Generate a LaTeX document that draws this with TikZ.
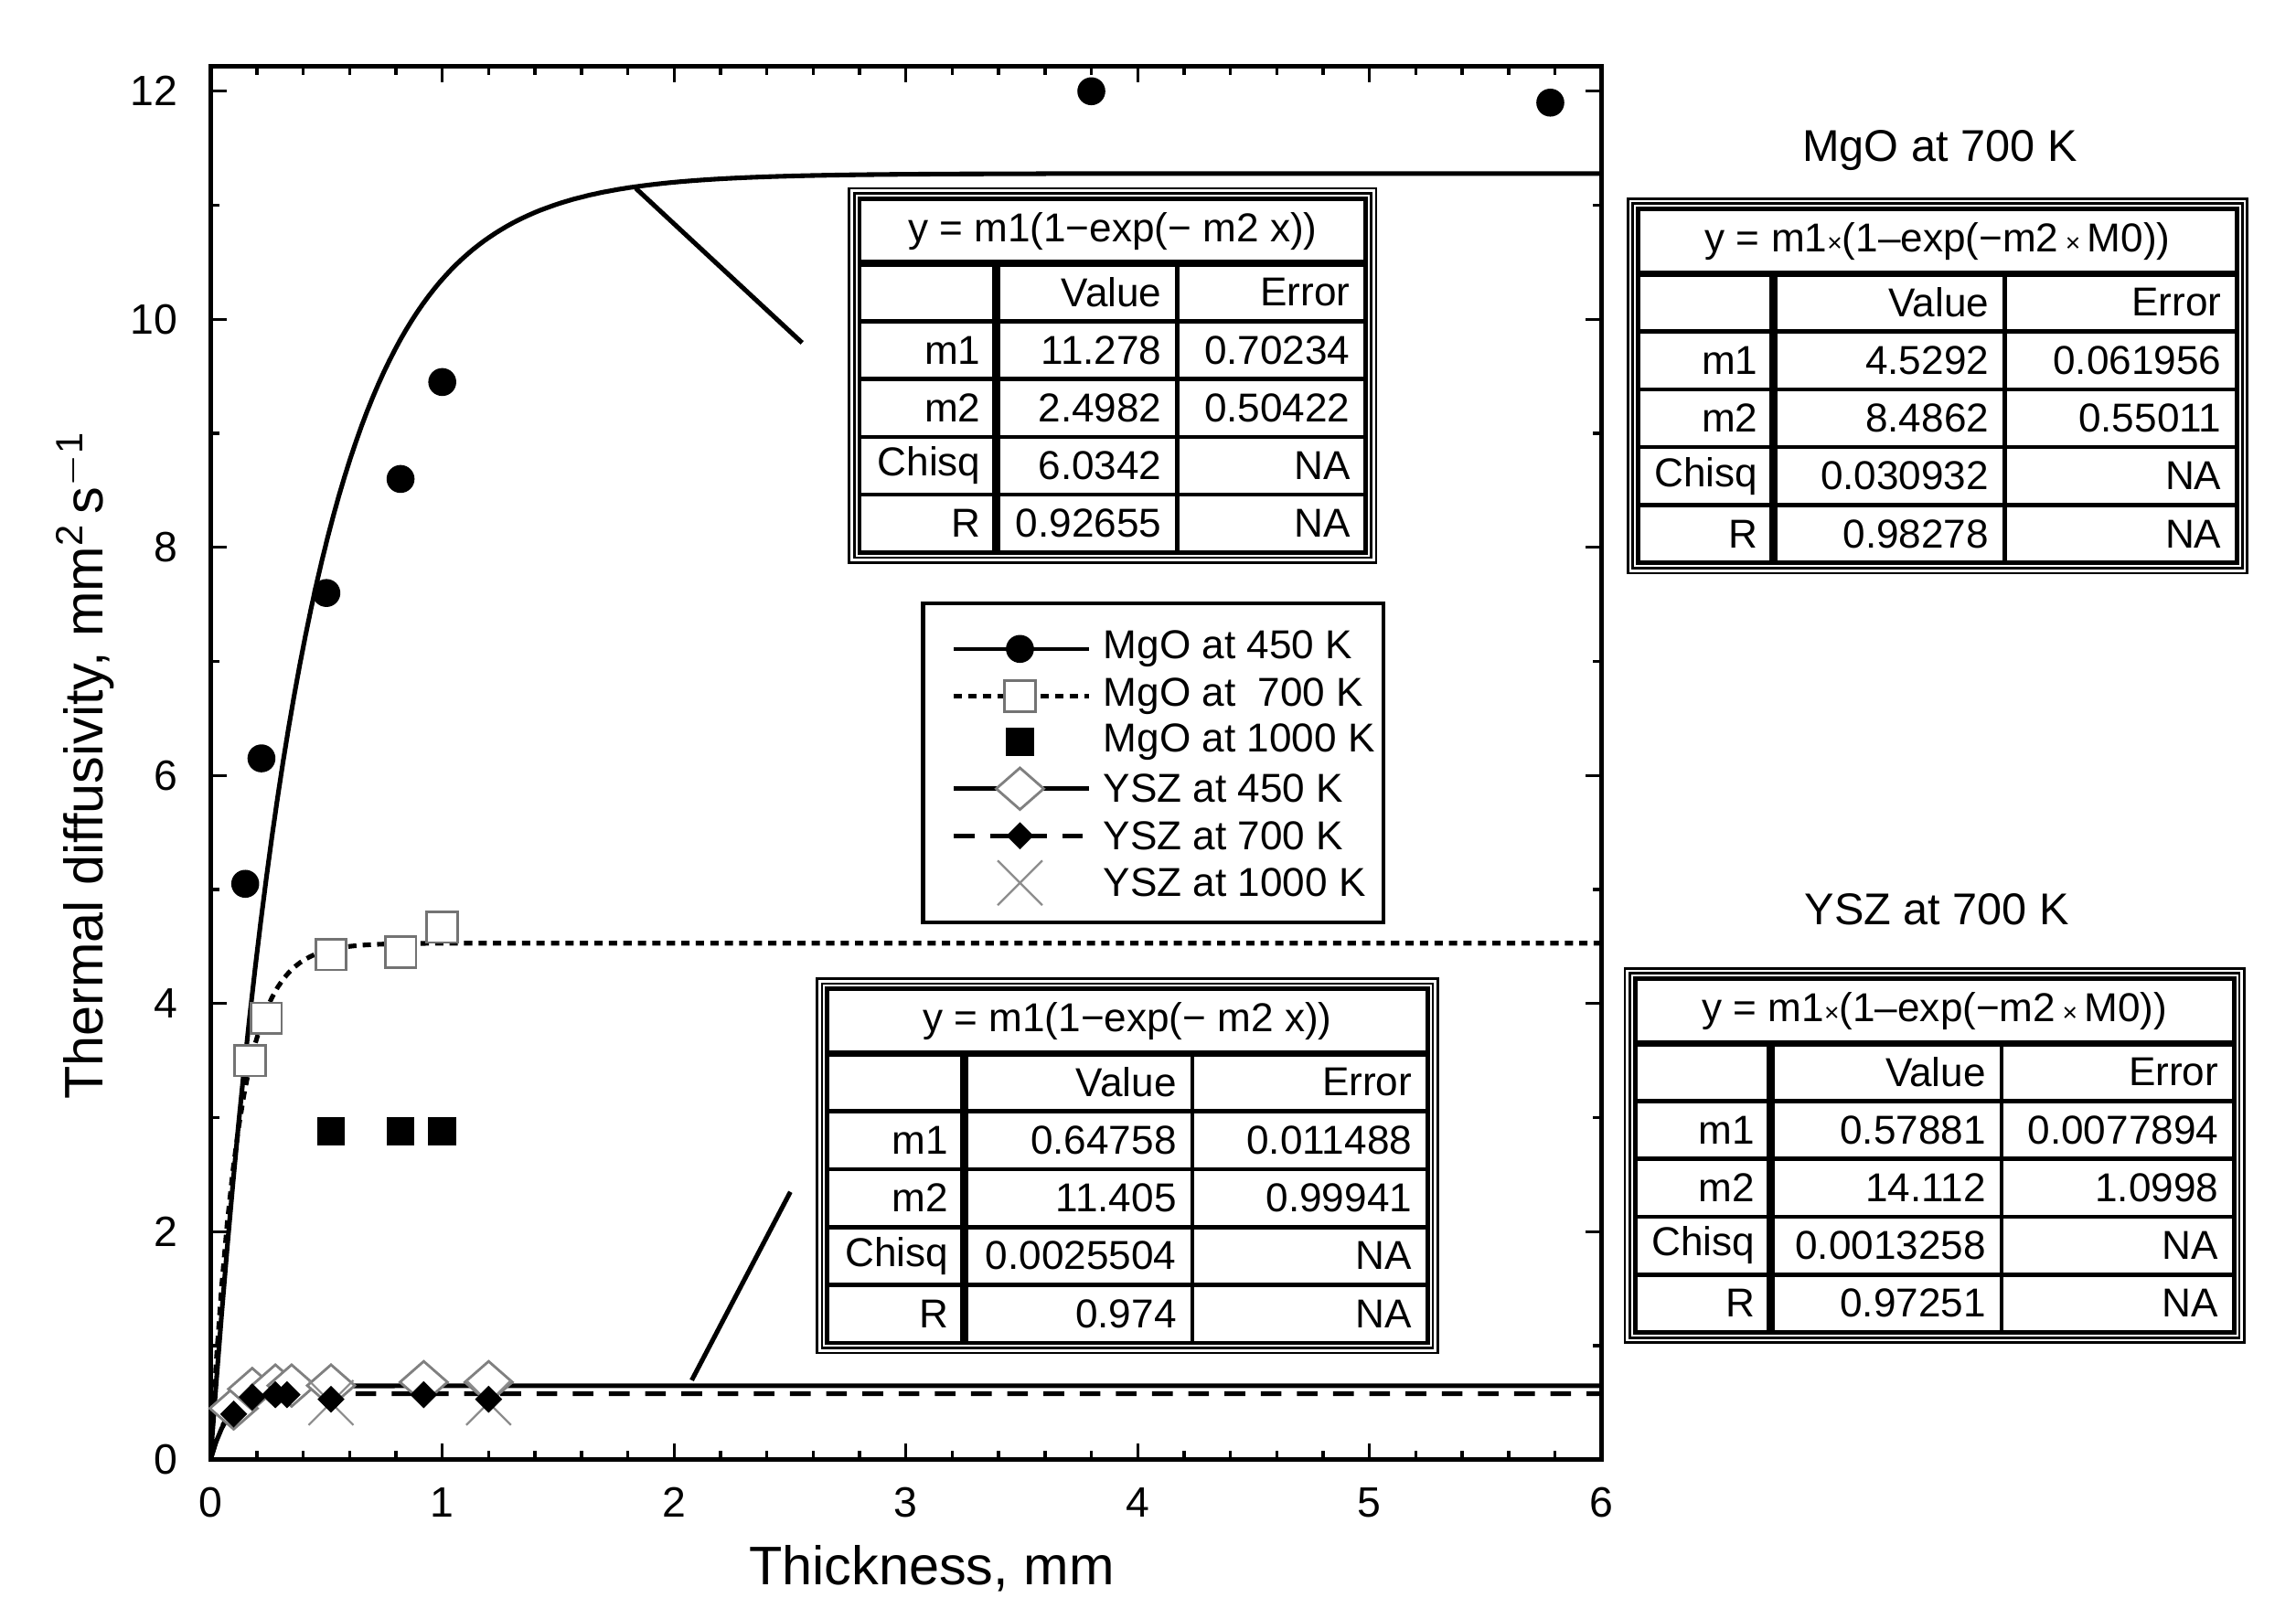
\documentclass[tikz,border=0pt]{standalone}
\usepackage{fontspec}
\setmainfont{Liberation Sans}
\usetikzlibrary{shapes.geometric,shapes.misc}
\begin{document}
\begin{tikzpicture}[x=0.1mm,y=-0.1mm,line join=miter]
\tikzset{
  tabtxt/.style={font=\fontsize{7.8}{8}\selectfont,anchor=east,inner sep=0pt},
  tick/.style={font=\fontsize{8.2}{9}\selectfont},
  leg/.style={font=\fontsize{7.8}{8}\selectfont,anchor=west,inner sep=0pt},
  circ/.style={circle,fill=black,inner sep=0pt,minimum size=1.9mm},
  wsq/.style={rectangle,draw=black!55,fill=white,line width=0.5pt,inner sep=0pt,minimum size=2.1mm},
  bsq/.style={rectangle,fill=black,inner sep=0pt,minimum size=1.9mm},
  wdia/.style={diamond,draw=black!50,fill=white,line width=0.5pt,inner sep=0pt,minimum width=3.3mm,minimum height=2.9mm},
  bdia/.style={diamond,fill=black,inner sep=0pt,minimum width=1.9mm,minimum height=1.9mm},
  xm/.style={draw=black!45,line width=0.4pt,cross out,inner sep=0pt,minimum size=2.9mm},
}
\useasboundingbox (0,0) rectangle (1560,1100);
% axes frame
\draw[line width=0.9pt] (143,45) rectangle (1088,992);
% ticks
\foreach \i in {0,...,30}{
  \pgfmathsetmacro\xx{143+\i*31.5}
  \pgfmathsetmacro\len{mod(\i,5)==0?11:6}
  \draw[line width=0.6pt] (\xx,992) -- ++(0,-\len);
  \draw[line width=0.6pt] (\xx,45) -- ++(0,\len);
}
\foreach \i in {0,...,12}{
  \pgfmathsetmacro\yy{992-\i*77.5}
  \pgfmathsetmacro\len{mod(\i,2)==0?11:6}
  \draw[line width=0.6pt] (143,\yy) -- ++(\len,0);
  \draw[line width=0.6pt] (1088,\yy) -- ++(-\len,0);
}
\foreach \v in {0,...,6}{ \node[tick] (xt\v) at (143+\v*157.5,1021) {\v}; }
\foreach \v in {0,2,...,12}{ \node[tick,anchor=east] (yt\v) at (133,992-\v*77.5) {\v}; }
\node[font=\fontsize{10.5}{12}\selectfont] (xl) at (633,1066) {Thickness, mm};
\node[font=\fontsize{10.5}{12}\selectfont,rotate=90] (yl) at (58,520) {Thermal diffusivity, mm$^{\mathrm{2}}$\,s$^{\mathrm{-1}}$};
% data
\begin{scope}[shift={(143,992)}]
\begin{scope}[x=1.575cm,y=0.775cm]
\begin{scope}
\clip (0,0) rectangle (6,12.2);
\draw[line width=0.9pt] plot[domain=0:6,samples=250] (\x,{11.278*(1-exp(-2.4982*\x))});
\draw[line width=0.9pt,dash pattern=on 1.6pt off 1.2pt] plot[domain=0:6,samples=250] (\x,{4.5292*(1-exp(-8.4862*\x))});
\draw[line width=0.9pt] plot[domain=0:6,samples=250] (\x,{0.64758*(1-exp(-11.405*\x))});
\draw[line width=0.9pt,dash pattern=on 4pt off 3pt] plot[domain=0:6,samples=250] (\x,{0.57881*(1-exp(-14.112*\x))});
\end{scope}
\foreach \px/\py [count=\k] in {0.15/5.05,0.22/6.15,0.5/7.6,0.82/8.6,1.0/9.45,3.8/12.0,5.78/11.9}
  \node[circ] (a\k) at (\px,\py) {};
\foreach \px/\py [count=\k] in {0.17/3.5,0.24/3.87,0.52/4.43,0.82/4.45,1.0/4.67}
  \node[wsq] (b\k) at (\px,\py) {};
\foreach \px [count=\k] in {0.52,0.82,1.0}
  \node[bsq] (c\k) at (\px,2.88) {};
\foreach \px/\py [count=\k] in {0.1/0.45,0.18/0.62,0.28/0.65,0.35/0.65,0.52/0.65,0.92/0.68,1.2/0.68}
  \node[wdia] (d\k) at (\px,\py) {};
\foreach \px/\py [count=\k] in {0.52/0.5,1.2/0.5}
  \node[xm] (x\k) at (\px,\py) {};
\foreach \px/\py [count=\k] in {0.1/0.4,0.18/0.55,0.28/0.57,0.33/0.57,0.52/0.53,0.92/0.57,1.2/0.53}
  \node[bdia] (e\k) at (\px,\py) {};
\end{scope}
\end{scope}
% pointer lines
\coordinate (p1a) at (432,128); \coordinate (p1b) at (545,233);
\coordinate (p2a) at (470,938); \coordinate (p2b) at (537,810);
\draw[line width=0.9pt] (p1a) -- (p1b);
\draw[line width=0.9pt] (p2a) -- (p2b);
% table macro
\newcommand\ftab[6]{%
  \def\tXL{#1}\def\tYT{#2}\def\tXA{#3}\def\tXB{#4}\def\tXR{#5}%
  \draw[line width=0.5pt] (#1-7,#2-7) rectangle (#5+7,#2+44+5*39.3+7);
  \draw[line width=0.5pt] (#1-3.5,#2-3.5) rectangle (#5+3.5,#2+44+5*39.3+3.5);
  \draw[line width=0.8pt] (#1,#2) rectangle (#5,#2+44+5*39.3);
  \draw[line width=1.3pt] (#1,#2+44) -- (#5,#2+44);
  \foreach \r in {1,...,4}{\draw[line width=0.8pt] (#1,#2+44+\r*39.3) -- (#5,#2+44+\r*39.3);}
  \draw[line width=1.5pt] (#3,#2+44) -- (#3,#2+44+5*39.3);
  \draw[line width=0.8pt] (#4,#2+44) -- (#4,#2+44+5*39.3);
  \node[font=\fontsize{7.8}{8}\selectfont,inner sep=0pt] at ({(#1+#5)/2},#2+22) {#6};
  \node[tabtxt] at (#4-10,#2+44+19.6) {Value};
  \node[tabtxt] at (#5-10,#2+44+19.6) {Error};
}
\newcommand\trow[4]{%
  \node[tabtxt] at (\tXA-10,\tYT+44+#1*39.3+19.6) {#2};
  \node[tabtxt] at (\tXB-10,\tYT+44+#1*39.3+19.6) {#3};
  \node[tabtxt] at (\tXR-10,\tYT+44+#1*39.3+19.6) {#4};
}
% table 1
\ftab{584}{135}{677}{800}{928}{y = m1(1−exp(− m2 x))}
\trow{1}{m1}{11.278}{0.70234}
\trow{2}{m2}{2.4982}{0.50422}
\trow{3}{Chisq}{6.0342}{NA}
\trow{4}{R}{0.92655}{NA}
% table 2
\ftab{1113}{142}{1205}{1362}{1520}{y = m1{\fontsize{5}{5}\selectfont×}(1‒exp(−m2\,{\fontsize{5}{5}\selectfont×}\,M0))}
\trow{1}{m1}{4.5292}{0.061956}
\trow{2}{m2}{8.4862}{0.55011}
\trow{3}{Chisq}{0.030932}{NA}
\trow{4}{R}{0.98278}{NA}
% table 3
\ftab{562}{672}{655}{810}{970}{y = m1(1−exp(− m2 x))}
\trow{1}{m1}{0.64758}{0.011488}
\trow{2}{m2}{11.405}{0.99941}
\trow{3}{Chisq}{0.0025504}{NA}
\trow{4}{R}{0.974}{NA}
% table 4
\ftab{1111}{665}{1203}{1360}{1518}{y = m1{\fontsize{5}{5}\selectfont×}(1‒exp(−m2\,{\fontsize{5}{5}\selectfont×}\,M0))}
\trow{1}{m1}{0.57881}{0.0077894}
\trow{2}{m2}{14.112}{1.0998}
\trow{3}{Chisq}{0.0013258}{NA}
\trow{4}{R}{0.97251}{NA}
\node[font=\fontsize{8.6}{9}\selectfont] (t1) at (1318,102) {MgO at 700 K};
\node[font=\fontsize{8.6}{9}\selectfont] (t2) at (1316,618) {YSZ at 700 K};
% legend
\draw[line width=0.8pt] (627,410) rectangle (940,627);
\draw[line width=0.8pt] (648,441) -- (740,441);
\node[circ] (l1) at (693,441) {};
\draw[line width=0.8pt,dash pattern=on 1.6pt off 1.2pt] (648,473) -- (740,473);
\node[wsq] (l2) at (693,473) {};
\node[bsq] (l3) at (693,504) {};
\draw[line width=0.8pt] (648,536) -- (740,536);
\node[wdia] (l4) at (693,536) {};
\draw[line width=0.8pt,dash pattern=on 4pt off 3pt] (648,568) -- (740,568);
\node[bdia] (l5) at (693,568) {};
\node[xm] (l6) at (693,600) {};
\node[leg] at (749,441) {MgO at 450 K};
\node[leg] at (749,473) {MgO at \ 700 K};
\node[leg] at (749,504) {MgO at 1000 K};
\node[leg] at (749,536) {YSZ at 450 K};
\node[leg] at (749,568) {YSZ at 700 K};
\node[leg] at (749,600) {YSZ at 1000 K};
\end{tikzpicture}
\end{document}
